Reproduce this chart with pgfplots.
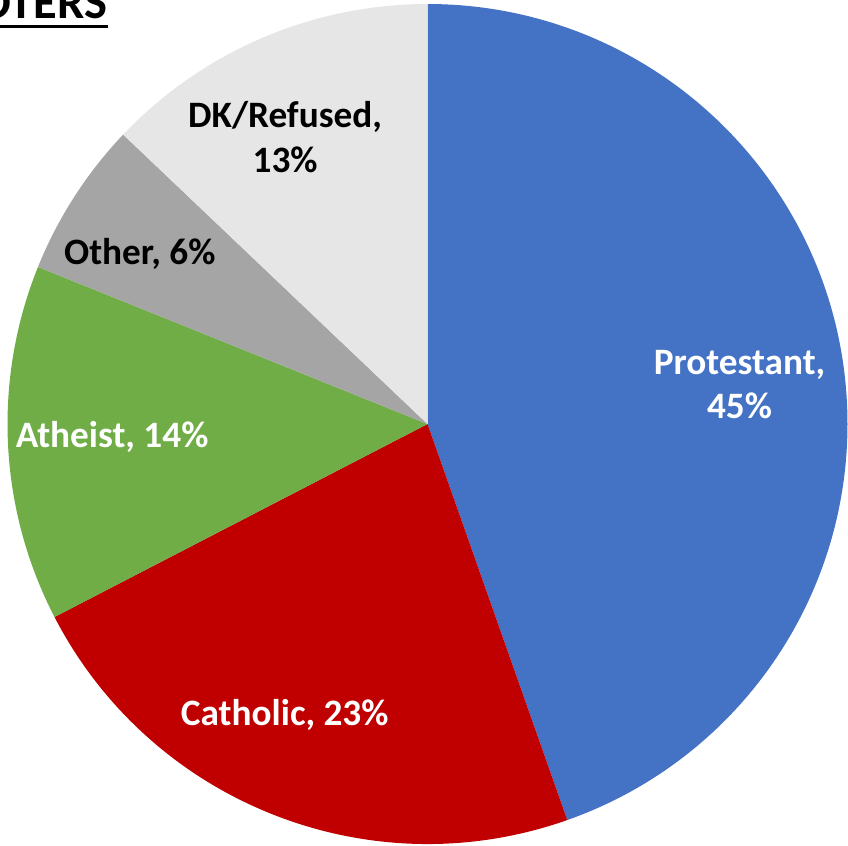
\documentclass[border=0pt]{standalone}
\usepackage{fontspec}
\setmainfont{Carlito}
\usepackage{pgfplots}
\usepackage{pgfplotstable}
\pgfplotsset{compat=1.18}
\definecolor{cProt}{HTML}{4472C4}
\definecolor{cCath}{HTML}{C00000}
\definecolor{cAthe}{HTML}{70AD47}
\definecolor{cOth}{HTML}{A5A5A5}
\definecolor{cDK}{HTML}{E6E6E6}

% share in percent, clockwise from 12 o'clock
\pgfplotstableread{
share colour
44.6  cProt
22.8  cCath
13.7  cAthe
6.0   cOth
12.9  cDK
}\religion

\begin{document}
\begin{tikzpicture}
\useasboundingbox (0,0) rectangle (8.48cm,8.45cm);
\clip (0,0) rectangle (8.48cm,8.45cm);
\begin{axis}[
    at={(4.275cm,4.21cm)}, anchor=center,
    scale only axis, width=8.4cm, height=8.4cm,
    xmin=-1, xmax=1, ymin=-1, ymax=1,
    hide axis, clip=false]
  \pgfplotsextra{
    \gdef\startang{90}
    \foreach \i in {0,...,4}{
      \pgfplotstablegetelem{\i}{share}\of\religion
      \let\sh\pgfplotsretval
      \pgfplotstablegetelem{\i}{colour}\of\religion
      \let\col\pgfplotsretval
      \pgfmathsetmacro\endang{\startang-3.6*\sh}
      \fill[\col] (axis cs:0,0) -- (axis cs:{cos(\startang)},{sin(\startang)})
        arc[start angle=\startang, end angle=\endang, radius=4.2cm] -- cycle;
      \xdef\startang{\endang}
    }
  }
  \begin{scope}[every node/.style={font=\fontsize{10.6}{12.7}\selectfont\bfseries, anchor=base}]
    \node[white] at (axis cs:0.743,0.119) {Protestant,};
    \node[white] at (axis cs:0.743,0.012) {45\%};
    \node[white] at (axis cs:-0.340,-0.719) {Catholic, 23\%};
    \node[white] at (axis cs:-0.751,-0.057) {Atheist, 14\%};
    \node[black] at (axis cs:-0.685,0.379) {Other, 6\%};
    \node[black] at (axis cs:-0.339,0.705) {DK/Refused,};
    \node[black] at (axis cs:-0.339,0.600) {13\%};
  \end{scope}
\end{axis}
\node[anchor=base east, inner sep=0pt, font=\fontsize{13.8}{16}\selectfont\bfseries]
  at (1.08cm,8.26cm) {OTERS};
\fill[black] (0,8.17cm) rectangle (1.08cm,8.2cm);
\end{tikzpicture}
\end{document}
